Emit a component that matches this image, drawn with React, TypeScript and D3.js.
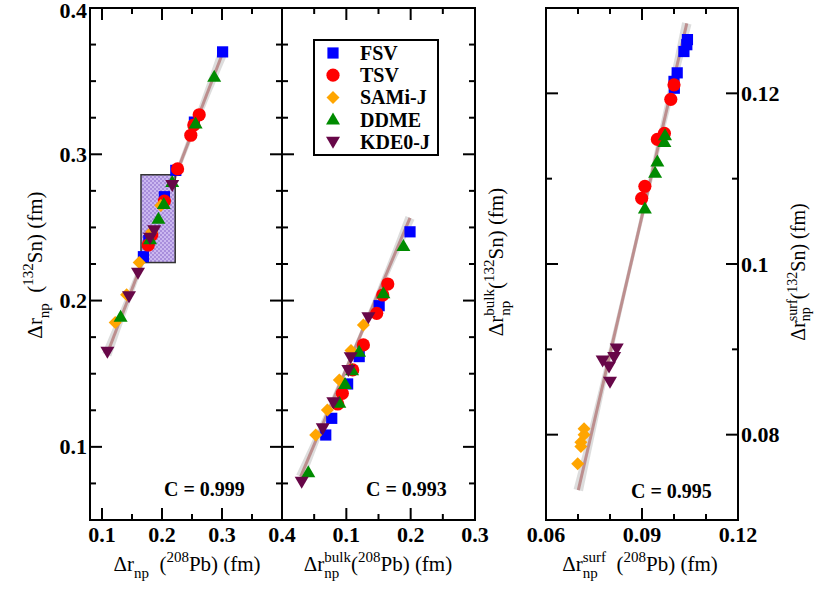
import React from 'react';
import * as d3 from 'd3';

const W = 814;
const H = 590;

// ---------- series meta ----------
const seriesNames = ['FSV', 'TSV', 'SAMi-J', 'DDME', 'KDE0-J'];
const seriesColors = ['#0000ff', '#ff0000', '#ffa500', '#008b00', '#670748'];
const seriesShapes = ['square', 'circle', 'diamond', 'triUp', 'triDown'];

// ---------- left panel: Δr_np(208Pb) vs Δr_np(132Sn) ----------
const leftFSV = [[0.301, 0.370], [0.254, 0.322], [0.223, 0.289], [0.204, 0.271], [0.178, 0.241], [0.169, 0.230]];
const leftTSV = [[0.262, 0.327], [0.253, 0.320], [0.248, 0.313], [0.226, 0.290], [0.204, 0.268], [0.183, 0.245], [0.177, 0.238]];
const leftSAMi = [[0.198, 0.265], [0.183, 0.247], [0.162, 0.226], [0.141, 0.204], [0.122, 0.185]];
const leftDDME = [[0.287, 0.353], [0.256, 0.321], [0.217, 0.281], [0.203, 0.266], [0.194, 0.256], [0.180, 0.242], [0.131, 0.189]];
const leftKDE = [[0.217, 0.279], [0.187, 0.248], [0.180, 0.243], [0.160, 0.219], [0.145, 0.203], [0.109, 0.165]];
const leftFit = [[0.108, 0.163], [0.300, 0.368]];
const leftBox = [0.165, 0.222, 0.226, 0.286];
const leftC = 'C = 0.999';

// ---------- middle panel: bulk ----------
const midFSV = [[0.199, 0.247], [0.151, 0.1965], [0.120, 0.1617], [0.102, 0.143], [0.0773, 0.1195], [0.068, 0.1081]];
const midTSV = [[0.1644, 0.2113], [0.1566, 0.2038], [0.1472, 0.1913], [0.1265, 0.1697], [0.1099, 0.1526], [0.0938, 0.1366], [0.0866, 0.1293]];
const midSAMi = [[0.1265, 0.1833], [0.1073, 0.1658], [0.0891, 0.1457], [0.0705, 0.1252], [0.0524, 0.1081]];
const midDDME = [[0.1887, 0.2373], [0.1576, 0.205], [0.1198, 0.1651], [0.1089, 0.1523], [0.098, 0.143], [0.0891, 0.1302], [0.0409, 0.0826]];
const midKDE = [[0.1343, 0.1886], [0.1068, 0.1612], [0.1031, 0.1526], [0.0798, 0.1305], [0.0633, 0.1127], [0.0306, 0.0762]];
const midFit = [[0.029, 0.0796], [0.199, 0.2565]];
const midC = 'C = 0.993';

// ---------- right panel: surface ----------
const rightFSV = [[0.1042, 0.1263], [0.1040, 0.1257], [0.1031, 0.1249], [0.1010, 0.1224], [0.1000, 0.1214], [0.1001, 0.1206]];
const rightTSV = [[0.1000, 0.1210], [0.0990, 0.1193], [0.0970, 0.1153], [0.0948, 0.1146], [0.0909, 0.1091], [0.0899, 0.1077]];
const rightSAMi = [[0.0719, 0.0807], [0.0719, 0.0800], [0.0709, 0.0791], [0.0709, 0.0786], [0.0699, 0.0766]];
const rightDDME = [[0.0972, 0.1151], [0.0970, 0.1143], [0.0948, 0.1120], [0.0941, 0.1107], [0.0909, 0.1065]];
const rightKDE = [[0.0821, 0.0901], [0.0813, 0.0891], [0.0777, 0.0887], [0.0797, 0.0880], [0.0800, 0.0862]];
const rightFit = [[0.0701, 0.0735], [0.1040, 0.1282]];
const rightC = 'C = 0.995';

// ---------- ticks ----------
const leftXMajor = [0.1, 0.2, 0.3, 0.4];
const leftXMinor = [0.15, 0.25, 0.35];
const leftXLabels = ['0.1', '0.2', '0.3', '0.4'];
const midXMajor = [0.1, 0.2, 0.3];
const midXMinor = [0.05, 0.15, 0.25];
const midXLabels = ['0.1', '0.2', '0.3'];
const yMajor = [0.1, 0.2, 0.3, 0.4];
const yMinor = [0.075, 0.125, 0.15, 0.175, 0.225, 0.25, 0.275, 0.325, 0.35, 0.375];
const yLabels = ['0.1', '0.2', '0.3', '0.4'];
const rightXMajor = [0.06, 0.09, 0.12];
const rightXMinor = [0.07, 0.08, 0.1, 0.11];
const rightXLabels = ['0.06', '0.09', '0.12'];
const rightYMajor = [0.08, 0.1, 0.12];
const rightYMinor = [0.09, 0.11];
const rightYLabels = ['0.08', '0.1', '0.12'];

const FONT = "'Liberation Serif', 'Times New Roman', serif";
const TICKF = 22;
const TITLEF = 21;
const SUB = 15;

function markerPath(shape: string): string {
  switch (shape) {
    case 'square':
      return 'M-5.6,-5.6H5.6V5.6H-5.6Z';
    case 'circle':
      return 'M6.6,0A6.6,6.6 0 1 1 -6.6,0A6.6,6.6 0 1 1 6.6,0Z';
    case 'diamond':
      return 'M0,-6.5L6.5,0L0,6.5L-6.5,0Z';
    case 'triUp':
      return 'M0,-7L7,5L-7,5Z';
    case 'triDown':
    default:
      return 'M0,7L7,-5L-7,-5Z';
  }
}

type Pt = number[];

interface PanelProps {
  px: [number, number];
  py: [number, number];
  xDomain: [number, number];
  yDomain: [number, number];
  xMajor: number[];
  xMinor: number[];
  yMajor: number[];
  yMinor: number[];
  xLabels: string[];
  yLabels?: string[];
  yLabelSide?: 'left' | 'right';
  series: Pt[][];
  fit: Pt[];
  box?: number[];
  cText: string;
  cPos: [number, number];
  id: string;
}

function Panel(p: PanelProps) {
  const x = d3.scaleLinear().domain(p.xDomain).range(p.px);
  const y = d3.scaleLinear().domain(p.yDomain).range(p.py);
  const [X0, X1] = p.px;
  const [Y1, Y0] = p.py; // py = [bottom, top]
  const MJ = 12;
  const MN = 6;
  const inside = (v: number, dom: [number, number]) =>
    v > dom[0] + 1e-9 && v < dom[1] - 1e-9;

  const a = [x(p.fit[0][0]), y(p.fit[0][1])];
  const b = [x(p.fit[1][0]), y(p.fit[1][1])];
  const dx = b[0] - a[0];
  const dy = b[1] - a[1];
  const len = Math.hypot(dx, dy);
  const nx = -dy / len;
  const ny = dx / len;
  const N = 24;
  const up: string[] = [];
  const dn: string[] = [];
  for (let i = 0; i <= N; i++) {
    const t = i / N;
    const hw = 1.8 + 3.0 * (2 * t - 1) * (2 * t - 1);
    const cx = a[0] + dx * t;
    const cy = a[1] + dy * t;
    up.push(`${cx + nx * hw},${cy + ny * hw}`);
    dn.unshift(`${cx - nx * hw},${cy - ny * hw}`);
  }
  const bandPath = 'M' + up.join('L') + 'L' + dn.join('L') + 'Z';

  const tickStyle = { stroke: '#000', strokeWidth: 2 };
  const txt = { fontFamily: FONT };

  return (
    <g>
      <path d={bandPath} fill="#d4d4d4" opacity={0.8} />
      <line x1={a[0]} y1={a[1]} x2={b[0]} y2={b[1]} stroke="#bc8f8f" strokeWidth={3} />
      {p.box && (
        <rect
          x={x(p.box[0])}
          y={y(p.box[3])}
          width={x(p.box[1]) - x(p.box[0])}
          height={y(p.box[2]) - y(p.box[3])}
          fill={`url(#chk-${p.id})`}
          stroke="#333"
          strokeWidth={1.5}
        />
      )}
      {p.series.map((pts, si) =>
        pts.map((pt, i) => (
          <path
            key={`${si}-${i}`}
            d={markerPath(seriesShapes[si])}
            transform={`translate(${x(pt[0])},${y(pt[1])})`}
            fill={seriesColors[si]}
          />
        ))
      )}
      <rect x={X0} y={Y0} width={X1 - X0} height={Y1 - Y0} fill="none" stroke="#000" strokeWidth={2} />
      {p.xMajor.filter((v) => inside(v, p.xDomain)).map((v) => (
        <g key={'xm' + v}>
          <line x1={x(v)} x2={x(v)} y1={Y1} y2={Y1 - MJ} {...tickStyle} />
          <line x1={x(v)} x2={x(v)} y1={Y0} y2={Y0 + MJ} {...tickStyle} />
        </g>
      ))}
      {p.xMinor.map((v) => (
        <g key={'xn' + v}>
          <line x1={x(v)} x2={x(v)} y1={Y1} y2={Y1 - MN} {...tickStyle} />
          <line x1={x(v)} x2={x(v)} y1={Y0} y2={Y0 + MN} {...tickStyle} />
        </g>
      ))}
      {p.yMajor.filter((v) => inside(v, p.yDomain)).map((v) => (
        <g key={'ym' + v}>
          <line x1={X0} x2={X0 + MJ} y1={y(v)} y2={y(v)} {...tickStyle} />
          <line x1={X1} x2={X1 - MJ} y1={y(v)} y2={y(v)} {...tickStyle} />
        </g>
      ))}
      {p.yMinor.map((v) => (
        <g key={'yn' + v}>
          <line x1={X0} x2={X0 + MN} y1={y(v)} y2={y(v)} {...tickStyle} />
          <line x1={X1} x2={X1 - MN} y1={y(v)} y2={y(v)} {...tickStyle} />
        </g>
      ))}
      {p.xMajor.map((v, i) => (
        <text key={'xl' + v} x={x(v)} y={Y1 + 22} textAnchor="middle" style={txt} fontWeight="bold" fontSize={TICKF}>
          {p.xLabels[i]}
        </text>
      ))}
      {p.yLabels &&
        p.yMajor.map((v, i) => (
          <text
            key={'yl' + v}
            x={p.yLabelSide === 'right' ? X1 + 3 : X0 - 3}
            y={Math.max(y(v) + 7.5, 18)}
            textAnchor={p.yLabelSide === 'right' ? 'start' : 'end'}
            style={txt}
            fontWeight="bold"
            fontSize={TICKF}
          >
            {p.yLabels![i]}
          </text>
        ))}
      <text x={p.cPos[0]} y={p.cPos[1]} style={txt} fontWeight="bold" fontSize={20}>
        {p.cText}
      </text>
    </g>
  );
}

function Legend() {
  const x0 = 314, y0 = 40, w = 124, h = 115;
  return (
    <g>
      <rect x={x0} y={y0} width={w} height={h} fill="#fff" stroke="#000" strokeWidth={2} />
      {seriesNames.map((n, i) => (
        <g key={n}>
          <path d={markerPath(seriesShapes[i])} transform={`translate(333,${53 + i * 22.2})`} fill={seriesColors[i]} />
          <text x={360} y={53 + i * 22.2 + 7} style={{ fontFamily: FONT }} fontWeight="bold" fontSize={20}>
            {n}
          </text>
        </g>
      ))}
    </g>
  );
}

export default function App() {
  const nb = '\u00a0';
  const tf = { fontFamily: FONT };
  return (
    <svg width={W} height={H} style={{ position: 'absolute', left: 0, top: 0, background: '#fff' }}>
      <defs>
        <pattern id="chk-left" width={4} height={4} patternUnits="userSpaceOnUse">
          <rect width={4} height={4} fill="#a98fdc" />
          <rect width={2} height={2} fill="#cbb8f0" />
          <rect x={2} y={2} width={2} height={2} fill="#cbb8f0" />
        </pattern>
      </defs>
      <rect width={W} height={H} fill="#fff" />
      <Panel
        id="left"
        px={[90, 282]}
        py={[520, 8]}
        xDomain={[0.08, 0.4]}
        yDomain={[0.05, 0.4]}
        xMajor={leftXMajor}
        xMinor={leftXMinor}
        yMajor={yMajor}
        yMinor={yMinor}
        xLabels={leftXLabels}
        yLabels={yLabels}
        yLabelSide="left"
        series={[leftFSV, leftTSV, leftSAMi, leftDDME, leftKDE]}
        fit={leftFit}
        box={leftBox}
        cText={leftC}
        cPos={[164, 496]}
      />
      <Panel
        id="mid"
        px={[282, 475]}
        py={[520, 8]}
        xDomain={[0, 0.3]}
        yDomain={[0.05, 0.4]}
        xMajor={midXMajor}
        xMinor={midXMinor}
        yMajor={yMajor}
        yMinor={yMinor}
        xLabels={midXLabels}
        series={[midFSV, midTSV, midSAMi, midDDME, midKDE]}
        fit={midFit}
        cText={midC}
        cPos={[366, 496]}
      />
      <Panel
        id="right"
        px={[546, 738]}
        py={[520, 8]}
        xDomain={[0.06, 0.12]}
        yDomain={[0.07, 0.13]}
        xMajor={rightXMajor}
        xMinor={rightXMinor}
        yMajor={rightYMajor}
        yMinor={rightYMinor}
        xLabels={rightXLabels}
        yLabels={rightYLabels}
        yLabelSide="right"
        series={[rightFSV, rightTSV, rightSAMi, rightDDME, rightKDE]}
        fit={rightFit}
        cText={rightC}
        cPos={[631, 498]}
      />
      <Legend />

      {/* x axis titles */}
      <text x={187} y={571} textAnchor="middle" style={tf} fontSize={TITLEF}>
        <tspan>Δr</tspan>
        <tspan fontSize={SUB} dy={7}>np</tspan>
        <tspan dy={-7}>{`${nb}${nb}(`}</tspan>
        <tspan fontSize={SUB} dy={-9}>208</tspan>
        <tspan dy={9}>Pb) (fm)</tspan>
      </text>
      <text x={378} y={571} textAnchor="middle" style={tf} fontSize={TITLEF}>
        <tspan>Δr</tspan>
        <tspan fontSize={SUB} dy={-9}>bulk</tspan>
        <tspan fontSize={SUB} dx={-26.7} dy={16}>np</tspan>
        <tspan dx={11.7} dy={-7}>(</tspan>
        <tspan fontSize={SUB} dy={-9}>208</tspan>
        <tspan dy={9}>Pb) (fm)</tspan>
      </text>
      <text x={640} y={571} textAnchor="middle" style={tf} fontSize={TITLEF}>
        <tspan>Δr</tspan>
        <tspan fontSize={SUB} dy={-9}>surf</tspan>
        <tspan fontSize={SUB} dx={-23.3} dy={16}>np</tspan>
        <tspan dx={8.3} dy={-7}>{`${nb}${nb}(`}</tspan>
        <tspan fontSize={SUB} dy={-9}>208</tspan>
        <tspan dy={9}>Pb) (fm)</tspan>
      </text>

      {/* y axis titles */}
      <text transform="translate(42,265) rotate(-90)" textAnchor="middle" style={tf} fontSize={TITLEF}>
        <tspan>Δr</tspan>
        <tspan fontSize={SUB} dy={7}>np</tspan>
        <tspan dy={-7}>{`${nb}${nb}(`}</tspan>
        <tspan fontSize={SUB} dy={-9}>132</tspan>
        <tspan dy={9}>Sn) (fm)</tspan>
      </text>
      <text transform="translate(503,262) rotate(-90)" textAnchor="middle" style={tf} fontSize={TITLEF}>
        <tspan>Δr</tspan>
        <tspan fontSize={SUB} dy={-9}>bulk</tspan>
        <tspan fontSize={SUB} dx={-26.7} dy={16}>np</tspan>
        <tspan dx={11.7} dy={-7}>(</tspan>
        <tspan fontSize={SUB} dy={-9}>132</tspan>
        <tspan dy={9}>Sn) (fm)</tspan>
      </text>
      <text transform="translate(805,272) rotate(-90)" textAnchor="middle" style={tf} fontSize={20}>
        <tspan>Δr</tspan>
        <tspan fontSize={14} dy={-8}>surf</tspan>
        <tspan fontSize={14} dx={-21.8} dy={13}>np</tspan>
        <tspan dx={7.8} dy={-5}>(</tspan>
        <tspan fontSize={14} dy={-8}>132</tspan>
        <tspan dy={8}>Sn) (fm)</tspan>
      </text>
    </svg>
  );
}
